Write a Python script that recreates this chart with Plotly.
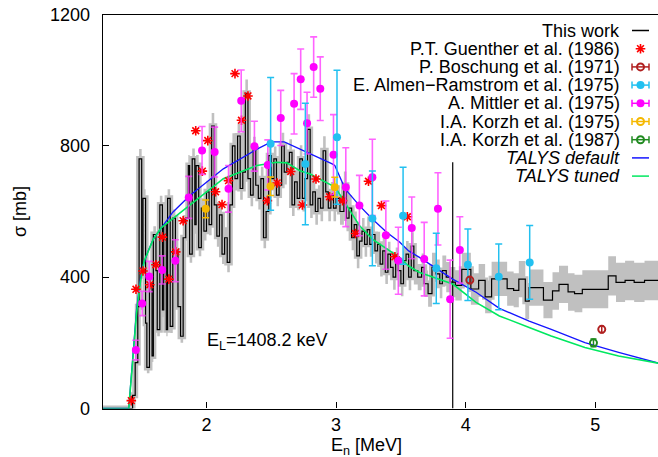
import plotly.graph_objects as go

# ---------------- data ----------------
# "This work" histogram: bin lower edges, last upper edge, cross sections [mb], uncertainties [mb]
hist_lo = [
    1.20, 1.43, 1.45, 1.47, 1.48, 1.50, 1.51, 1.53, 1.54, 1.56, 1.58, 1.59, 1.61, 1.62, 1.64, 1.66, 1.67,
    1.69, 1.70, 1.72, 1.74, 1.76, 1.78, 1.80, 1.82, 1.84, 1.86, 1.87, 1.89, 1.91, 1.92, 1.94, 1.96, 1.98,
    2.00, 2.02, 2.04, 2.06, 2.08, 2.10, 2.12, 2.14, 2.16, 2.18, 2.20, 2.22, 2.24, 2.26, 2.28, 2.30, 2.32,
    2.34, 2.36, 2.38, 2.40, 2.42, 2.44, 2.46, 2.48, 2.50, 2.52, 2.54, 2.56, 2.58, 2.60, 2.62, 2.64, 2.66,
    2.68, 2.70,
    2.72, 2.74, 2.76, 2.78, 2.80, 2.82, 2.84, 2.86, 2.88, 2.90, 2.92, 2.94, 2.96, 2.98,
    3.00, 3.03, 3.06, 3.08, 3.10, 3.12, 3.14, 3.16, 3.18, 3.20, 3.22, 3.24, 3.26, 3.28, 3.30, 3.32, 3.34,
    3.36, 3.38, 3.40, 3.42, 3.44, 3.46, 3.48, 3.50, 3.52, 3.54, 3.56, 3.58,
    3.60, 3.63, 3.66, 3.68, 3.71, 3.74, 3.77, 3.80, 3.82, 3.85, 3.88, 3.92, 3.97, 4.04, 4.10, 4.15, 4.20,
    4.32, 4.37, 4.41, 4.46, 4.49, 4.60, 4.67, 4.72, 4.79, 4.84, 4.90, 5.10, 5.16, 5.23, 5.30, 5.38,
]
hist_end = 5.50
hist_sigma = [
    0, 40, 140, 310, 760, 420, 640, 260, 125, 380, 160, 530, 420, 240, 620, 300, 560,
    240, 640, 250, 580, 480, 310, 220, 520, 580, 740, 470, 760, 560, 740, 490, 610, 540,
    660, 560, 860, 620, 525, 590, 470, 520, 445, 620, 800, 700, 830, 670, 720, 960, 700,
    650, 790, 680, 640, 700, 520, 600, 770, 700, 760, 650, 680, 800, 720, 750, 780, 620,
    690, 640,
    760, 640, 700, 850, 620, 660, 600, 640, 610, 785, 660, 610, 650, 610,
    640, 600, 680, 580, 610, 520, 560, 465, 510, 540, 500, 545, 500, 530, 480, 500, 440,
    480, 415, 470, 430, 400, 450, 420, 380, 450, 470, 400, 495,
    420, 400, 430, 380, 350, 430, 410, 380, 420, 400, 385, 375, 424, 364, 390, 340, 395,
    365, 360, 394, 327, 368, 330, 358, 378, 355, 350, 363, 404, 384, 390, 384, 390,
]
hist_err = [
    0, 8, 15, 22, 30, 25, 28, 22, 18, 22, 18, 25, 24, 20, 28, 22, 26,
    20, 28, 20, 26, 24, 22, 20, 26, 28, 32, 26, 32, 28, 32, 26, 30, 28,
    34, 32, 40, 34, 32, 34, 30, 32, 30, 34, 38, 36, 38, 34, 36, 42, 36,
    34, 38, 36, 34, 36, 32, 34, 38, 36, 38, 34, 36, 40, 38, 38, 40, 34,
    36, 36,
    42, 40, 40, 46, 40, 40, 40, 40, 40, 44, 40, 40, 40, 40,
    40, 40, 42, 40, 40, 38, 40, 38, 38, 40, 38, 40, 38, 40, 38, 38, 38,
    38, 36, 38, 38, 38, 40, 38, 38, 40, 40, 40, 42,
    42, 40, 42, 40, 40, 44, 44, 44, 46, 46, 46, 46, 50, 48, 50, 50, 52,
    52, 52, 55, 55, 55, 55, 57, 57, 57, 57, 58, 60, 60, 60, 60, 60,
]
assert len(hist_lo) == len(hist_sigma) == len(hist_err)

# vertical marker line
vline_E = [3.9, 3.9]
vline_sigma = [0, 750]

# P.T. Guenther et al. (1986)
gue_E = [1.42, 1.456, 1.51, 1.563, 1.61, 1.66, 1.71, 1.763, 1.82, 1.917, 1.968, 2.01, 2.07, 2.12, 2.17,
         2.22, 2.27, 2.32, 2.47, 2.545, 2.65, 2.74, 2.845, 2.95, 3.05, 3.15, 3.25, 3.35, 3.454, 3.55]
gue_sigma = [24, 363, 419, 377, 438, 522, 394, 477, 572, 846, 723, 816, 660, 621, 694,
             1020, 878, 952, 633, 687, 722, 620, 699, 645, 633, 533, 692, 618, 462, 584]

# P. Boschung et al. (1971)
bos_E = [4.032, 5.05]
bos_sigma = [391, 241]
bos_err = [10, 10]

# E. Almen-Ramstrom et al. (1975)
alm_E = [2.495, 2.763, 3.007, 3.28, 3.517, 3.773, 4.017, 4.255, 4.494]
alm_sigma = [806, 745, 826, 579, 587, 427, 438, 401, 445]
alm_err = [202, 185, 204, 144, 148, 107, 109, 100, 112]

# A. Mittler et al. (1975)
mit_E = [1.455, 1.504, 1.558, 1.658, 1.76, 1.863, 1.966, 2.063, 2.17, 2.268, 2.37, 2.473, 2.573, 2.676,
         2.727, 2.776, 2.827, 2.878, 2.98, 3.075, 3.18, 3.28, 3.384, 3.48, 3.584, 3.68, 3.786, 3.88, 3.955]
mit_sigma = [178, 320, 402, 422, 450, 643, 786, 781, 669, 937, 799, 742, 885, 928,
             1003, 869, 1040, 974, 773, 674, 618, 704, 528, 450, 550, 455, 608, 333, 483]
mit_err = [30, 37, 46, 43, 64, 64, 73, 76, 71, 94, 76, 76, 84, 92,
           92, 94, 92, 97, 122, 120, 92, 116, 104, 102, 94, 112, 110, 119, 101]

# I.A. Korzh et al. (1975)
k75_E = [1.994, 2.494, 2.99]
k75_sigma = [608, 677, 674]
k75_err = [27, 28, 30]

# I.A. Korzh et al. (1987)
k87_E = [4.986]
k87_sigma = [200]
k87_err = [12]

# TALYS default
tdef_E = [1.20, 1.40, 1.43, 1.46, 1.50, 1.55, 1.59, 1.74, 1.87, 2.13, 2.39, 2.50, 2.60, 2.72, 2.80, 2.97,
          2.99, 3.07, 3.18, 3.28, 3.39, 3.49, 3.56, 3.64, 3.90, 4.08, 4.26, 4.41, 4.49, 4.66, 4.92, 5.18,
          5.46, 5.50]
tdef_sigma = [0, 0, 150, 300, 424, 480, 516, 598, 648, 730, 790, 812, 812, 791, 775, 745,
              740, 669, 618, 577, 537, 507, 480, 461, 394, 354, 305, 278, 266, 241, 201, 171,
              141, 137]

# TALYS tuned
ttun_E = [1.20, 1.40, 1.43, 1.46, 1.49, 1.52, 1.59, 1.65, 1.74, 1.87, 2.13, 2.39, 2.54, 2.62, 2.72, 2.80,
          2.97, 3.00, 3.10, 3.18, 3.28, 3.39, 3.49, 3.56, 3.64, 3.90, 4.08, 4.26, 4.41, 4.49, 4.66, 4.92,
          5.18, 5.46, 5.50]
ttun_sigma = [0, 0, 140, 290, 385, 450, 516, 550, 578, 618, 700, 740, 750, 748, 724, 714,
              679, 670, 608, 557, 516, 486, 460, 434, 415, 379, 323, 282, 258, 247, 221, 186,
              160, 140, 137]

x_ticks = [2, 3, 4, 5]
y_ticks = [0, 400, 800, 1200]

legend_labels = ["This work", "P.T. Guenther et al. (1986)", "P. Boschung et al. (1971)",
                 "E. Almen\u2212Ramstrom et al. (1975)", "A. Mittler et al. (1975)",
                 "I.A. Korzh et al. (1975)", "I.A. Korzh et al. (1987)",
                 "<i>TALYS default</i>", "<i>TALYS tuned</i>"]

# ---------------- styles ----------------
FONT = "Liberation Sans, Arial, sans-serif"
C_BAND = "#c0c0c0"
C_RED = "#ff0000"
C_BOS = "#b02020"
C_ALM = "#22c0f0"
C_MIT = "#ff00ff"
C_MIT_BAR = "rgba(255,60,255,0.8)"
C_K75 = "#f5b800"
C_K87 = "#208a20"
C_TDEF = "#1515ff"
C_TTUN = "#00e860"

W, H = 658, 457
PX_X0, PX_PER_MEV = 102.8, 129.6
PX_Y0, PX_Y1200 = 408.5, 14.5

fig = go.Figure()

# step arrays
xs = hist_lo + [hist_end]
ys = hist_sigma + [hist_sigma[-1]]
ers = hist_err + [hist_err[-1]]
upper = [v + e for v, e in zip(ys, ers)]
lower = [v - e for v, e in zip(ys, ers)]

fig.add_trace(go.Scatter(x=xs, y=lower, mode="lines", line=dict(width=0, shape="hv", color=C_BAND),
                         hoverinfo="skip"))
fig.add_trace(go.Scatter(x=xs, y=upper, mode="lines", line=dict(width=0, shape="hv", color=C_BAND),
                         fill="tonexty", fillcolor=C_BAND, hoverinfo="skip"))
fig.add_trace(go.Scatter(x=xs, y=ys, mode="lines", line=dict(width=6, shape="hv", color=C_BAND),
                         hoverinfo="skip"))
fig.add_trace(go.Scatter(x=xs, y=ys, mode="lines", line=dict(width=1.2, shape="hv", color="black"),
                         name="This work"))
fig.add_trace(go.Scatter(x=vline_E, y=vline_sigma, mode="lines", line=dict(width=1.2, color="black"),
                         hoverinfo="skip"))

# theory
fig.add_trace(go.Scatter(x=tdef_E, y=tdef_sigma, mode="lines", line=dict(width=1.3, color=C_TDEF),
                         name="TALYS default"))
fig.add_trace(go.Scatter(x=ttun_E, y=ttun_sigma, mode="lines", line=dict(width=1.6, color=C_TTUN),
                         name="TALYS tuned"))

# experimental data
fig.add_trace(go.Scatter(x=gue_E, y=gue_sigma, mode="markers",
                         marker=dict(symbol="asterisk-open", size=8, color=C_RED,
                                     line=dict(width=1.6, color=C_RED))))
fig.add_trace(go.Scatter(x=mit_E, y=mit_sigma, mode="markers",
                         marker=dict(symbol="circle", size=8, color=C_MIT),
                         error_y=dict(type="data", array=mit_err, color=C_MIT_BAR, thickness=1.6, width=3.5)))
fig.add_trace(go.Scatter(x=alm_E, y=alm_sigma, mode="markers",
                         marker=dict(symbol="circle", size=8, color=C_ALM, line=dict(width=0)),
                         error_y=dict(type="data", array=alm_err, color=C_ALM, thickness=1.5, width=3.5)))
fig.add_trace(go.Scatter(x=k75_E, y=k75_sigma, mode="markers",
                         marker=dict(symbol="circle", size=8, color=C_K75),
                         error_y=dict(type="data", array=k75_err, color=C_K75, thickness=1.5, width=3.5)))
fig.add_trace(go.Scatter(x=bos_E, y=bos_sigma, mode="markers",
                         marker=dict(symbol="circle-open", size=7, color=C_BOS, line=dict(width=2, color=C_BOS)),
                         error_y=dict(type="data", array=bos_err, color=C_BOS, thickness=1.5, width=2)))
fig.add_trace(go.Scatter(x=k87_E, y=k87_sigma, mode="markers",
                         marker=dict(symbol="circle-open", size=7, color=C_K87, line=dict(width=2, color=C_K87)),
                         error_y=dict(type="data", array=k87_err, color=C_K87, thickness=1.5, width=3)))

# ---------------- legend (drawn on a pixel-space overlay axis) ----------------
ROW0, ROW_H = 30.5, 18.2
KEY_X0, KEY_X1 = 632.0, 649.0
KEY_XC = (KEY_X0 + KEY_X1) / 2
TEXT_RIGHT = 621.5
rows = [ROW0 + ROW_H * i for i in range(len(legend_labels))]

key_styles = [
    ("line", "black", None),
    ("asterisk", C_RED, None),
    ("bar", C_BOS, "circle-open"),
    ("bar", C_ALM, "circle"),
    ("bar", C_MIT, "circle"),
    ("bar", C_K75, "circle-open"),
    ("bar", C_K87, "circle-open"),
    ("line", C_TDEF, None),
    ("line", C_TTUN, None),
]
for ry, (kind, col, sym) in zip(rows, key_styles):
    if kind in ("line", "bar"):
        lx = [KEY_X0, KEY_X1]
        ly = [ry, ry]
        if kind == "bar":
            lx = [KEY_X0, KEY_X1, None, KEY_X0, KEY_X0, None, KEY_X1, KEY_X1]
            ly = [ry, ry, None, ry - 3.5, ry + 3.5, None, ry - 3.5, ry + 3.5]
        fig.add_trace(go.Scatter(x=lx, y=ly, xaxis="x2", yaxis="y2", mode="lines",
                                 line=dict(color=col, width=1.5), hoverinfo="skip"))
    if kind == "asterisk":
        fig.add_trace(go.Scatter(x=[KEY_XC], y=[ry], xaxis="x2", yaxis="y2", mode="markers",
                                 marker=dict(symbol="asterisk-open", size=8, color=col,
                                             line=dict(width=1.6, color=col)),
                                 hoverinfo="skip"))
    elif sym is not None:
        if sym == "circle":
            mk = dict(symbol="circle", size=8, color=col)
        else:
            mk = dict(symbol="circle-open", size=7, color=col, line=dict(width=2, color=col))
        fig.add_trace(go.Scatter(x=[KEY_XC], y=[ry], xaxis="x2", yaxis="y2", mode="markers",
                                 marker=mk, hoverinfo="skip"))

annotations = []
for ry, lab in zip(rows, legend_labels):
    annotations.append(dict(x=TEXT_RIGHT, y=ry, xref="x2", yref="y2", text=lab, showarrow=False,
                            xanchor="right", yanchor="middle", font=dict(family=FONT, size=18, color="black")))

# axis titles and label
annotations.append(dict(x=366, y=446, xref="x2", yref="y2", text="E<sub>n</sub> [MeV]", showarrow=False,
                        xanchor="center", yanchor="middle", font=dict(family=FONT, size=18, color="black")))
annotations.append(dict(x=20, y=212, xref="x2", yref="y2", text="\u03c3 [mb]", showarrow=False,
                        textangle=-90, xanchor="center", yanchor="middle",
                        font=dict(family=FONT, size=18, color="black")))
annotations.append(dict(x=205, y=341, xref="x2", yref="y2", text="E<sub>L</sub>=1408.2 keV", showarrow=False,
                        xanchor="left", yanchor="middle", font=dict(family=FONT, size=18, color="black")))

fig.update_layout(
    width=W, height=H,
    margin=dict(l=0, r=0, t=0, b=0),
    plot_bgcolor="rgba(0,0,0,0)", paper_bgcolor="white",
    showlegend=False,
    font=dict(family=FONT, size=18, color="black"),
    xaxis=dict(domain=[PX_X0 / W, 1.0], range=[1.2, 1.2 + (W - PX_X0) / PX_PER_MEV],
               anchor="y", tickvals=x_ticks, ticks="inside", ticklen=6, tickcolor="black", tickwidth=1,
               showline=True, linecolor="black", linewidth=1.3, mirror=True, showgrid=False,
               zeroline=False, ticklabelstandoff=0, automargin=False,
               tickfont=dict(family=FONT, size=18, color="black")),
    yaxis=dict(domain=[(H - PX_Y0) / H, (H - PX_Y1200) / H], range=[0, 1200], anchor="x",
               tickvals=y_ticks, ticks="inside", ticklen=6, tickcolor="black", tickwidth=1,
               showline=True, linecolor="black", linewidth=1.3, mirror=False, showgrid=False,
               zeroline=False, ticklabelstandoff=8, automargin=False,
               tickfont=dict(family=FONT, size=18, color="black")),
    xaxis2=dict(domain=[0, 1], range=[0, W], anchor="y2", visible=False, fixedrange=True),
    yaxis2=dict(domain=[0, 1], range=[H, 0], anchor="x2", visible=False, fixedrange=True),
    annotations=annotations,
)

fig.write_html("out.html", config={"displayModeBar": False},
               post_script="document.body.style.margin='0px';document.body.style.overflow='hidden';")
